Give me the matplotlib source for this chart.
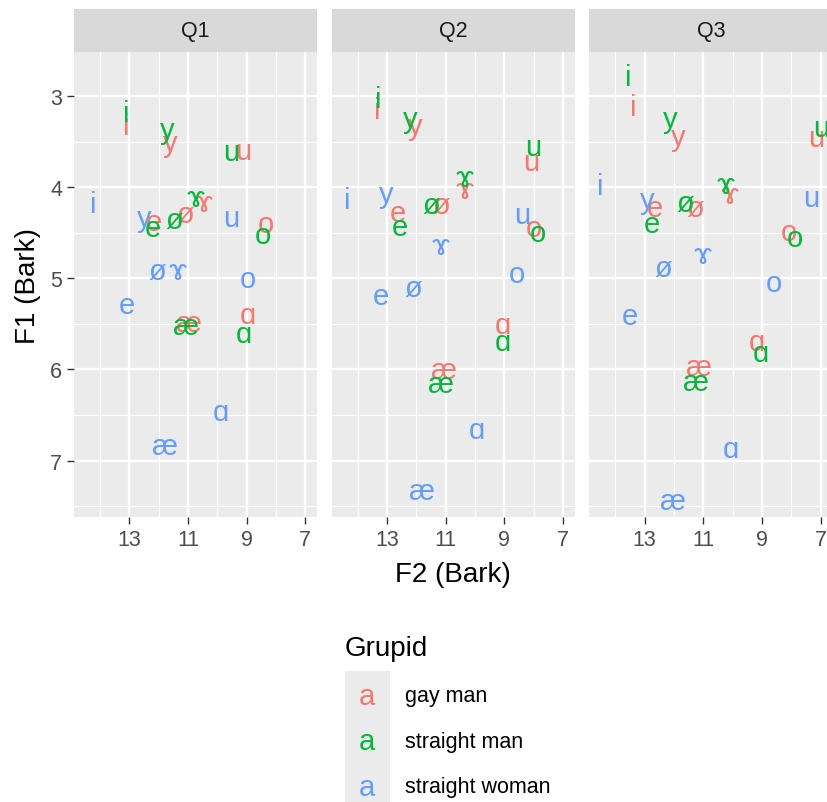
import matplotlib
matplotlib.use('Agg')
import matplotlib.pyplot as plt
from matplotlib.patches import Rectangle

plt.rcParams['font.family'] = ['Liberation Sans', 'DejaVu Sans']

# ---------------- data ----------------
vowels = ['i', 'y', 'u', 'e', 'ø', 'ɤ', 'o', 'æ', 'ɑ']
groups = ['gay man', 'straight man', 'straight woman']
colors = ['#F8766D', '#00BA38', '#619CFF']
panels = ['Q1', 'Q2', 'Q3']

# F2 (x) and F1 (y) in Bark, vowel order as in `vowels`
q1_gay_f2 = [13.10, 11.61, 9.12, 12.15, 11.09, 10.47, 8.35, 10.95, 8.96]
q1_gay_f1 = [3.33, 3.52, 3.60, 4.38, 4.29, 4.17, 4.40, 5.49, 5.40]
q1_sm_f2 = [13.11, 11.72, 9.53, 12.20, 11.47, 10.75, 8.45, 11.06, 9.10]
q1_sm_f1 = [3.19, 3.37, 3.61, 4.45, 4.36, 4.12, 4.53, 5.52, 5.61]
q1_sw_f2 = [14.23, 12.50, 9.53, 13.09, 12.06, 11.36, 8.96, 11.78, 9.87]
q1_sw_f1 = [4.19, 4.34, 4.34, 5.29, 4.92, 4.92, 5.01, 6.84, 6.47]

q2_gay_f2 = [13.32, 12.05, 8.09, 12.62, 11.14, 10.34, 8.01, 11.06, 9.06]
q2_gay_f1 = [3.15, 3.33, 3.72, 4.28, 4.20, 4.03, 4.45, 6.01, 5.51]
q2_sm_f2 = [13.29, 12.20, 8.01, 12.58, 11.48, 10.34, 7.84, 11.17, 9.06]
q2_sm_f1 = [3.03, 3.25, 3.56, 4.44, 4.20, 3.90, 4.50, 6.16, 5.70]
q2_sw_f2 = [14.37, 13.03, 8.40, 13.20, 12.09, 11.17, 8.58, 11.80, 9.95]
q2_sw_f1 = [4.14, 4.08, 4.31, 5.20, 5.11, 4.65, 4.95, 7.33, 6.66]

q3_gay_f2 = [13.38, 11.87, 7.15, 12.67, 11.26, 10.09, 8.07, 11.15, 9.17]
q3_gay_f1 = [3.12, 3.45, 3.46, 4.23, 4.23, 4.09, 4.49, 5.97, 5.70]
q3_sm_f2 = [13.55, 12.14, 6.98, 12.77, 11.61, 10.24, 7.86, 11.26, 9.04]
q3_sm_f1 = [2.79, 3.25, 3.35, 4.40, 4.17, 3.98, 4.56, 6.14, 5.82]
q3_sw_f2 = [14.52, 12.92, 7.33, 13.51, 12.35, 11.03, 8.60, 12.03, 10.07]
q3_sw_f1 = [3.99, 4.14, 4.12, 5.41, 4.89, 4.75, 5.05, 7.44, 6.87]

data = {
    'Q1': [(q1_gay_f2, q1_gay_f1), (q1_sm_f2, q1_sm_f1), (q1_sw_f2, q1_sw_f1)],
    'Q2': [(q2_gay_f2, q2_gay_f1), (q2_sm_f2, q2_sm_f1), (q2_sw_f2, q2_sw_f1)],
    'Q3': [(q3_gay_f2, q3_gay_f1), (q3_sm_f2, q3_sm_f1), (q3_sw_f2, q3_sw_f1)],
}

x_major = [13, 11, 9, 7]
x_minor = [14, 12, 10, 8]
y_major = [3, 4, 5, 6, 7]
y_minor = [3.5, 4.5, 5.5, 6.5, 7.5]

# ---------------- layout ----------------
W, H = 827, 803
fig = plt.figure(figsize=(W / 100, H / 100), dpi=100)
fig.patch.set_facecolor('white')

def fx(px):
    return px / W

def fy(py):
    return 1 - py / H

panel_lefts = [74, 331.7, 589.3]
pw = 243.3
p_top, p_bot, s_top = 53.3, 518.0, 10.0
TXT = 21
TICK = 15.5

for k, (q, left) in enumerate(zip(panels, panel_lefts)):
    ax = fig.add_axes([fx(left), fy(p_bot), pw / W, (p_bot - p_top) / H])
    ax.set_facecolor('#EBEBEB')
    for s in ax.spines.values():
        s.set_visible(False)
    ax.set_xlim(14.89, 6.59)
    ax.set_ylim(7.62, 2.52)
    ax.set_xticks(x_major)
    ax.set_xticks(x_minor, minor=True)
    ax.set_yticks(y_major)
    ax.set_yticks(y_minor, minor=True)
    ax.set_axisbelow(True)
    ax.grid(which='major', color='white', lw=1.7)
    ax.grid(which='minor', color='white', lw=0.85)
    ax.tick_params(which='minor', length=0)
    ax.tick_params(which='major', length=5, width=1.0, color='#333333',
                   labelsize=TICK, labelcolor='#4D4D4D', pad=3.5)
    if k > 0:
        ax.tick_params(axis='y', length=0, labelleft=False)

    for g, (f2, f1) in enumerate(data[q]):
        for v, xv, yv in zip(vowels, f2, f1):
            ax.text(xv, yv, v, color=colors[g], fontsize=TXT,
                    ha='center', va='center', clip_on=True)

    sax = fig.add_axes([fx(left), fy(p_top), pw / W, (p_top - s_top) / H])
    sax.set_facecolor('#D9D9D9')
    sax.set_xticks([])
    sax.set_yticks([])
    for s in sax.spines.values():
        s.set_visible(False)
    sax.text(0.5, 0.5, q, transform=sax.transAxes, ha='center', va='center',
             fontsize=TICK, color='#1A1A1A')

# axis titles
fig.text(fx(453.3), fy(581.7), 'F2 (Bark)', ha='center', va='baseline',
         fontsize=20, color='black')
fig.text(fx(28), fy(285.7), 'F1 (Bark)', ha='center', va='center',
         rotation=90, fontsize=20, color='black')

# legend
fig.text(fx(345), fy(656), 'Grupid', ha='left', va='baseline',
         fontsize=20, color='black')
row_h = 45.5
row0 = 671.7
for g, (name, col) in enumerate(zip(groups, colors)):
    top = row0 + g * row_h
    fig.patches.append(Rectangle((fx(345), fy(top + row_h)), 45 / W, row_h / H,
                                 transform=fig.transFigure, facecolor='#EBEBEB',
                                 edgecolor='none'))
    cy = top + row_h / 2 + 2.5
    fig.text(fx(366.7), fy(cy), 'a', color=col, fontsize=TXT,
             ha='center', va='center')
    fig.text(fx(405), fy(cy), name, color='black', fontsize=TICK,
             ha='left', va='center')

fig.savefig('out.png', dpi=100)
